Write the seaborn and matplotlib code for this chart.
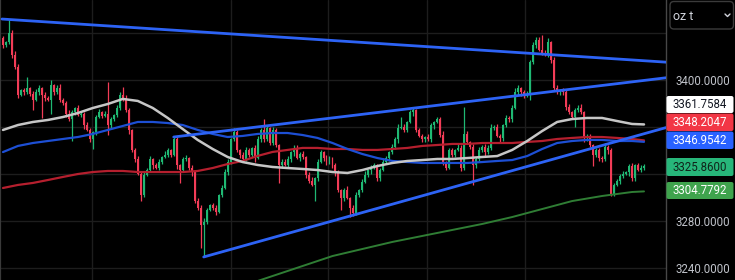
import matplotlib
matplotlib.use("Agg")
import matplotlib.pyplot as plt
from matplotlib.patches import FancyBboxPatch
from matplotlib.lines import Line2D
from matplotlib.transforms import IdentityTransform
import numpy as np
import pandas as pd
import seaborn as sns

# ---------------- data ----------------
first_open = 3435
closes = [
    3429, 3432, 3440, 3421, 3411, 3387, 3391, 3389, 3393, 3388, 3383, 3389, 3393, 3387, 3384, 3383, 3395, 3389, 3393, 3383,
    3380, 3371, 3366, 3372, 3376, 3370, 3371, 3361, 3357, 3349, 3355, 3368, 3372, 3369, 3371, 3361, 3366, 3370, 3376, 3387,
    3383, 3374, 3357, 3340, 3332, 3320, 3302, 3319, 3323, 3332, 3327, 3325, 3330, 3334, 3336, 3340, 3336, 3349, 3327, 3323,
    3332, 3333, 3325, 3321, 3297, 3291, 3276, 3279, 3289, 3293, 3291, 3287, 3302, 3308, 3321, 3330, 3349, 3355, 3340, 3336,
    3332, 3340, 3336, 3342, 3333, 3349, 3357, 3349, 3359, 3346, 3357, 3344, 3327, 3330, 3327, 3332, 3338, 3342, 3333, 3337,
    3334, 3319, 3314, 3310, 3316, 3330, 3338, 3333, 3329, 3333, 3327, 3321, 3306, 3299, 3306, 3299, 3291, 3286, 3302, 3306,
    3313, 3319, 3323, 3325, 3327, 3316, 3323, 3330, 3333, 3338, 3343, 3349, 3359, 3360, 3357, 3364, 3372, 3374, 3357, 3352,
    3349, 3351, 3349, 3361, 3364, 3366, 3353, 3330, 3325, 3340, 3336, 3340, 3342, 3325, 3354, 3347, 3343, 3327, 3332, 3340,
    3343, 3338, 3342, 3359, 3360, 3352, 3350, 3361, 3367, 3366, 3376, 3389, 3393, 3389, 3386, 3387, 3415, 3429, 3434, 3425,
    3423, 3421, 3432, 3417, 3393, 3389, 3391, 3389, 3377, 3372, 3368, 3374, 3376, 3372, 3350, 3352, 3344, 3336, 3340, 3333,
    3332, 3343, 3340, 3303, 3310, 3314, 3318, 3320, 3321, 3326, 3316, 3327, 3323, 3325, 3326,
]
up_wick = [
    2, 1, 11, 2, 3, 2, 1, 2, 9, 1, 2, 3, 2, 1, 2, 2, 5, 1, 2, 3,
    1, 2, 3, 2, 1, 2, 2, 1, 3, 2, 1, 2, 3, 1, 2, 27, 2, 1, 2, 2,
    7, 4, 2, 1, 2, 3, 1, 2, 2, 3, 1, 2, 2, 1, 3, 2, 1, 2, 2, 1,
    2, 3, 1, 2, 1, 2, 2, 3, 2, 1, 2, 2, 1, 2, 3, 2, 1, 4, 2, 1,
    2, 3, 2, 1, 2, 3, 2, 9, 2, 1, 3, 2, 1, 2, 2, 3, 1, 2, 2, 1,
    2, 1, 2, 3, 1, 2, 2, 1, 3, 2, 1, 2, 2, 1, 2, 3, 1, 2, 2, 1,
    2, 3, 1, 2, 2, 1, 2, 3, 2, 1, 2, 2, 3, 8, 2, 1, 2, 3, 1, 2,
    2, 1, 3, 2, 1, 2, 2, 3, 1, 2, 2, 1, 3, 2, 23, 2, 1, 2, 2, 3,
    1, 2, 2, 3, 1, 2, 2, 1, 3, 2, 2, 4, 2, 1, 2, 3, 2, 3, 2, 2,
    13, 2, 3, 1, 2, 2, 1, 2, 3, 2, 1, 2, 2, 3, 1, 2, 2, 1, 2, 2,
    2, 3, 1, 2, 2, 1, 2, 2, 1, 2, 3, 1, 2, 2, 2,
]
dn_wick = [
    2, 1, 2, 3, 2, 3, 1, 2, 1, 2, 9, 1, 2, 20, 2, 1, 12, 2, 1, 2,
    2, 3, 1, 18, 2, 1, 2, 3, 1, 2, 8, 2, 1, 2, 1, 8, 2, 1, 2, 2,
    1, 2, 3, 2, 2, 1, 5, 2, 1, 2, 3, 1, 2, 2, 1, 2, 2, 1, 3, 11,
    2, 1, 2, 3, 2, 2, 19, 27, 2, 1, 2, 2, 1, 2, 1, 2, 2, 1, 2, 3,
    2, 1, 2, 2, 3, 1, 2, 2, 1, 2, 2, 1, 15, 2, 1, 2, 2, 3, 1, 2,
    2, 3, 2, 1, 13, 2, 1, 2, 2, 1, 2, 3, 2, 10, 2, 1, 8, 2, 1, 2,
    2, 1, 2, 3, 1, 2, 2, 1, 2, 2, 1, 2, 3, 1, 2, 2, 1, 3, 2, 1,
    2, 2, 1, 2, 3, 1, 2, 3, 2, 1, 2, 2, 1, 3, 2, 1, 2, 17, 2, 1,
    2, 3, 1, 2, 2, 1, 3, 2, 1, 2, 2, 1, 2, 3, 2, 1, 4, 2, 2, 1,
    2, 1, 2, 3, 2, 1, 2, 2, 3, 1, 2, 8, 2, 1, 3, 2, 1, 10, 2, 2,
    2, 1, 3, 2, 2, 1, 3, 2, 1, 3, 2, 2, 1, 2, 2,
]

ma_idx = [0, 5, 10, 15, 20, 25, 30, 35, 40, 45, 50, 55, 60, 65, 70, 75, 80, 85, 90, 95,
          100, 105, 110, 115, 120, 125, 130, 135, 140, 145, 150, 155, 160, 165, 170, 175,
          180, 185, 190, 195, 200, 205, 210, 214]
ma_gray = [3357.1, 3361.3, 3363.9, 3365.6, 3368.1, 3371.5, 3375.8, 3379.2, 3383.5, 3381.8,
           3375.8, 3367.3, 3357.9, 3348.6, 3340.9, 3334.1, 3329.8, 3327.3, 3325.6, 3324.7,
           3323.9, 3323.0, 3321.3, 3320.5, 3323.0, 3326.4, 3329.0, 3330.7, 3331.5, 3332.4,
           3332.4, 3333.2, 3334.1, 3334.9, 3340.1, 3347.7, 3356.2, 3363.9, 3366.4, 3367.3,
           3367.3, 3364.7, 3362.2, 3361.8]
ma_blue = [3338.3, 3343.5, 3346.0, 3347.7, 3349.4, 3351.1, 3353.7, 3357.1, 3360.5, 3363.9,
           3363.9, 3363.0, 3361.3, 3357.1, 3353.7, 3351.1, 3352.0, 3353.7, 3354.5, 3354.5,
           3352.8, 3350.3, 3346.0, 3340.9, 3336.6, 3333.2, 3330.7, 3329.8, 3329.0, 3329.0,
           3329.0, 3329.0, 3329.8, 3330.7, 3331.5, 3334.9, 3340.9, 3346.0, 3347.7, 3348.6,
           3348.6, 3347.7, 3347.7, 3347.0]
ma_red = [3307.7, 3310.3, 3312.0, 3314.5, 3317.1, 3319.6, 3321.3, 3322.2, 3322.2, 3321.3,
          3321.3, 3321.3, 3321.3, 3322.2, 3324.7, 3328.1, 3330.7, 3335.0, 3338.4, 3340.1,
          3341.8, 3341.8, 3340.9, 3340.9, 3340.1, 3340.1, 3340.9, 3341.8, 3343.5, 3344.3,
          3345.2, 3345.2, 3346.0, 3346.0, 3346.0, 3346.9, 3347.7, 3349.4, 3350.3, 3351.1,
          3351.1, 3350.3, 3349.4, 3348.2]
ma_green_idx = [60, 70, 80, 90, 100, 110, 120, 130, 140, 150, 160, 170, 180, 190, 200, 210, 214]
ma_green = [3208.1, 3215.8, 3224.3, 3232.8, 3241.3, 3249.8, 3255.8, 3261.8, 3266.9, 3272.0,
            3277.1, 3283.0, 3289.8, 3296.6, 3300.9, 3304.3, 3304.8]

# trend lines drawn on the chart: (start index, start price, end index, end price)
trend_top = (-0.33, 3451.5, 221.34, 3414.8)
trend_mid = (57.0, 3351.1, 221.34, 3401.5)
trend_low = (67.0, 3249.0, 221.34, 3359.1)

grid_prices = [3240, 3280, 3320, 3360, 3400, 3440]
price_labels = ["3240.0000", "3280.0000", "", "", "3400.0000", ""]
session_idx = [29.7, 76.1, 108.5, 141.6, 174.3]

tag_values = [3361.7584, 3348.2047, 3346.9542, 3325.8600, 3304.7792]
unit_label = "oz t"

# ---------------- style ----------------
UP, DOWN = "#1fb873", "#f23c57"
BG = "#000000"
sns.set_theme(style="dark", rc={"axes.facecolor": BG, "figure.facecolor": BG,
                                "savefig.facecolor": BG})
plt.rcParams["font.family"] = ["Roboto", "DejaVu Sans"]

W, H = 735, 280
fig = plt.figure(figsize=(W / 100, H / 100), dpi=100)
ax = fig.add_axes([0, 0, 666 / W, 1])
ax.set_facecolor(BG)

n = len(closes)
idx = np.arange(n)
cl = np.array(closes, float)
op = np.array([first_open] + closes[:-1], float)
hi = np.maximum(op, cl) + np.array(up_wick)
lo = np.minimum(op, cl) - np.array(dn_wick)
cols = np.where(cl >= op, UP, DOWN)

ax.vlines(idx, lo, hi, colors=cols, linewidth=0.9, zorder=2)
ax.bar(idx, np.maximum(np.abs(cl - op), 0.7), bottom=np.minimum(op, cl),
       width=0.66, color=cols, linewidth=0, zorder=2.1)

for xs, ys, c, lw in [(ma_green_idx, ma_green, "#2f7d34", 1.4),
                      (ma_idx, ma_red, "#b51f2e", 1.6),
                      (ma_idx, ma_blue, "#1d4fd4", 1.6),
                      (ma_idx, ma_gray, "#c6c6c6", 1.8)]:
    sns.lineplot(x=xs, y=ys, ax=ax, color=c, linewidth=lw, zorder=3,
                 sort=False, estimator=None, legend=False)

for x0, y0, x1, y1 in [trend_top, trend_mid, trend_low]:
    ax.plot([x0, x1], [y0, y1], color="#2d63f5", linewidth=2.0,
            solid_capstyle="round", zorder=4)

ax.set_xlim(-1.0, 221.34)
ax.set_ylim(3229.4, 3467.7)
ax.set_xlabel("")
ax.set_ylabel("")
ax.set_yticks(grid_prices)
ax.set_yticklabels(price_labels)
ax.set_xticks(session_idx)
ax.set_xticklabels([])
ax.grid(True, color="#1d1d1d", linewidth=1.0)
ax.set_axisbelow(True)
ax.yaxis.tick_right()
ax.tick_params(axis="y", length=0, pad=7, labelcolor="#bfc2c9", labelsize=8.3)
ax.tick_params(axis="x", length=0, labelbottom=False)
for s in ("top", "bottom"):
    ax.spines[s].set_visible(False)
ax.spines["left"].set_color("#3a3a3a")
ax.spines["left"].set_linewidth(1.6)
ax.spines["right"].set_color("#474747")
ax.spines["right"].set_linewidth(1.0)

# ---------------- right-side price tags ----------------
def box(x0, y0, x1, y1, fc, ec="none", lw=0, r=2.0, z=5):
    p = FancyBboxPatch((x0, H - y1), x1 - x0, y1 - y0,
                       boxstyle=f"round,pad=0,rounding_size={r}",
                       transform=IdentityTransform(), fc=fc, ec=ec, lw=lw, zorder=z)
    fig.add_artist(p)

tag_rows = [(96, 113, "#ffffff", "#131722"),
            (113.5, 131, "#f23645", "#ffffff"),
            (131.5, 149, "#2962ff", "#ffffff"),
            (158, 176, "#27b67a", "#10231a"),
            (182, 199, "#3fa34d", "#ffffff")]
for v, (y0, y1, fc, tc) in zip(tag_values, tag_rows):
    box(666.5, y0, 733.5, y1, fc, z=5)
    fig.text(700 / W, 1 - ((y0 + y1) / 2 + 0.5) / H, f"{v:.4f}", ha="center",
             va="center", fontsize=8.3, color=tc, zorder=6)

# unit selector box
box(670, 1.5, 733.5, 29, "#000000", ec="#3b3b3b", lw=1.0, r=4, z=5)
fig.text(673 / W, 1 - 16 / H, unit_label, ha="left", va="center",
         fontsize=9, color="#d1d4dc", zorder=6)
fig.add_artist(Line2D([725, 727.5, 730], [H - 14, H - 16.5, H - 14],
                      transform=IdentityTransform(), color="#d1d4dc", lw=1.0, zorder=6))

fig.savefig("out.png", dpi=100, facecolor=BG)
